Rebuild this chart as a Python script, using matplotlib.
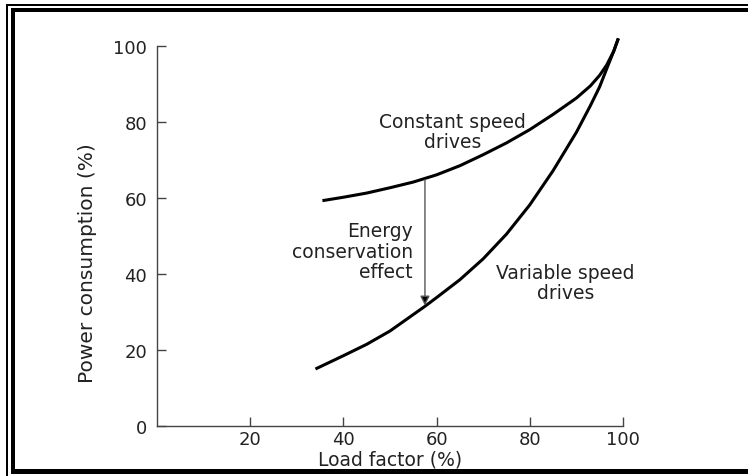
import matplotlib.pyplot as plt
from matplotlib.patches import Rectangle

# values
load_const = [35.5, 40, 45, 50, 55, 60, 65, 70, 75, 80, 85, 90, 93, 95, 96.5, 98, 99]
power_const = [59.3, 60.2, 61.3, 62.7, 64.2, 66.1, 68.5, 71.4, 74.5, 78.0, 82.0, 86.3, 89.5, 92.3, 95.0, 98.6, 102.0]

load_var = [34, 40, 45, 50, 57.5, 60, 65, 70, 75, 80, 85, 90, 93, 95, 96.5, 98, 99]
power_var = [15.0, 18.5, 21.5, 25.0, 31.5, 33.8, 38.5, 44.0, 50.5, 58.2, 67.2, 77.3, 84.3, 89.3, 94.0, 98.6, 102.0]

x_ticks = [20, 40, 60, 80, 100]
y_ticks = [0, 20, 40, 60, 80, 100]

arrow_x = 57.5
arrow_top = 64.8
arrow_bottom = 31.7

W, H = 748, 477
fig = plt.figure(figsize=(W / 100, H / 100), dpi=100)
ax = fig.add_axes([157 / W, 1 - 427 / H, (623 - 157) / W, (427 - 47) / H])

txt = '#222222'
ax.plot(load_const, power_const, color='black', lw=2.2, clip_on=False, solid_capstyle='butt')
ax.plot(load_var, power_var, color='black', lw=2.2, clip_on=False, solid_capstyle='butt')

ax.annotate('', xy=(arrow_x, arrow_bottom), xytext=(arrow_x, arrow_top),
            arrowprops=dict(arrowstyle='-|>', ec='#555555', fc='black', lw=1.0,
                            mutation_scale=14, shrinkA=0, shrinkB=0))

ax.text(63.5, 77.5, 'Constant speed\ndrives', ha='center', va='center',
        fontsize=13.5, color=txt, linespacing=1.1)
ax.text(54.9, 46.0, 'Energy\nconservation\neffect', ha='right', va='center',
        fontsize=13.5, color=txt, linespacing=1.1)
ax.text(87.6, 37.8, 'Variable speed\ndrives', ha='center', va='center',
        fontsize=13.5, color=txt, linespacing=1.1)

ax.set_xlim(0, 100)
ax.set_ylim(0, 100)
ax.set_xticks(x_ticks)
ax.set_yticks(y_ticks)
ax.tick_params(direction='in', length=6.5, width=1.0, color='#444444',
               labelsize=13, labelcolor=txt)
ax.tick_params(axis='x', pad=3)
ax.tick_params(axis='y', pad=7)
for s in ['top', 'right']:
    ax.spines[s].set_visible(False)
for s in ['left', 'bottom']:
    ax.spines[s].set_color('#444444')
    ax.spines[s].set_linewidth(1.0)

ax.set_xlabel('Load factor (%)', fontsize=13.5, color=txt, labelpad=1)
ax.set_ylabel('Power consumption (%)', fontsize=14.5, color=txt)
ax.yaxis.set_label_coords(-0.128, 0.43)

# double frame around the picture
def bar(x0, y0, x1, y1):
    fig.add_artist(Rectangle((x0 / W, 1 - y1 / H), (x1 - x0) / W, (y1 - y0) / H,
                             transform=fig.transFigure, color='black', lw=0))

bar(6, 5, W, 7)
bar(11, 9, W, 13)
bar(6, 5, 8, H)
bar(11, 9, 15, 474)
bar(11, 470, W, 475)

fig.savefig('out.png', dpi=100)
